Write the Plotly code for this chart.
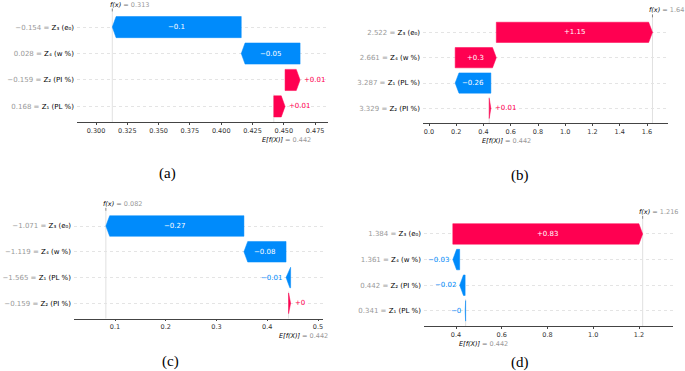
import plotly.graph_objects as go

# ---------------- data ----------------
base_value = 0.442

# panel (a)  rows listed top -> bottom
feat_vals_a = ["−0.154", "0.028", "−0.159", "0.168"]
feat_names_a = ["Z₃ (e₀)", "Z₄ (w %)", "Z₂ (PI %)", "Z₁ (PL %)"]
shap_a = [-0.103, -0.047, 0.012, 0.009]
xticks_a = [0.300, 0.325, 0.350, 0.375, 0.400, 0.425, 0.450, 0.475]
xticklabels_a = ["0.300", "0.325", "0.350", "0.375", "0.400", "0.425", "0.450", "0.475"]

# panel (b)
feat_vals_b = ["2.522", "2.661", "3.287", "3.329"]
feat_names_b = ["Z₃ (e₀)", "Z₄ (w %)", "Z₁ (PL %)", "Z₂ (PI %)"]
shap_b = [1.146, 0.302, -0.262, 0.012]
xticks_b = [0.0, 0.2, 0.4, 0.6, 0.8, 1.0, 1.2, 1.4, 1.6]
xticklabels_b = ["0.0", "0.2", "0.4", "0.6", "0.8", "1.0", "1.2", "1.4", "1.6"]

# panel (c)
feat_vals_c = ["−1.071", "−1.119", "−1.565", "−0.159"]
feat_names_c = ["Z₃ (e₀)", "Z₄ (w %)", "Z₁ (PL %)", "Z₂ (PI %)"]
shap_c = [-0.272, -0.083, -0.009, 0.004]
xticks_c = [0.1, 0.2, 0.3, 0.4, 0.5]
xticklabels_c = ["0.1", "0.2", "0.3", "0.4", "0.5"]

# panel (d)
feat_vals_d = ["1.384", "1.361", "0.442", "0.341"]
feat_names_d = ["Z₃ (e₀)", "Z₄ (w %)", "Z₂ (PI %)", "Z₁ (PL %)"]
shap_d = [0.830, -0.030, -0.024, -0.002]
xticks_d = [0.4, 0.6, 0.8, 1.0, 1.2]
xticklabels_d = ["0.4", "0.6", "0.8", "1.0", "1.2"]

captions = ["(a)", "(b)", "(c)", "(d)"]

# ---------------- style / layout ----------------
W, H = 685, 371
RED = "#ff0051"
BLUE = "#008bfb"
GRAY = "#999999"
FONT = "DejaVu Sans"
HEAD_PX = 3.8
BAR_H = 0.4  # half bar height (bar width 0.8)

panels = [
    dict(vals=feat_vals_a, names=feat_names_a, shap=shap_a, tv=xticks_a, tt=xticklabels_a,
         xpx=(77, 328), ypx=(11.5, 122), xr=(0.2848, 0.4853), eshift=-14, fshift=-4,
         cap=(167, 174)),
    dict(vals=feat_vals_b, names=feat_names_b, shap=shap_b, tv=xticks_b, tt=xticklabels_b,
         xpx=(423, 668), ypx=(17.4, 123.3), xr=(-0.044, 1.754), eshift=-9, fshift=-5,
         cap=(520, 175)),
    dict(vals=feat_vals_c, names=feat_names_c, shap=shap_c, tv=xticks_c, tt=xticklabels_c,
         xpx=(74, 323), ypx=(210.8, 318.5), xr=(0.0192, 0.5098), eshift=-12, fshift=-5,
         cap=(170, 361)),
    dict(vals=feat_vals_d, names=feat_names_d, shap=shap_d, tv=xticks_d, tt=xticklabels_d,
         xpx=(424, 673), ypx=(218.8, 326), xr=(0.2601, 1.3486), eshift=-9, fshift=-6,
         cap=(520, 362)),
]


def fmt_signed(v):
    s = "%+0.02f" % v
    s = s.rstrip("0").rstrip(".")
    return s.replace("-", "−")


def fmt_plain(v):
    s = "%0.03f" % v
    s = s.rstrip("0").rstrip(".")
    return s.replace("-", "−")


fig = go.Figure()
annotations = []
shapes = []
layout_axes = {}

for k, p in enumerate(panels):
    idx = "" if k == 0 else str(k + 1)
    xa, ya = "x" + idx, "y" + idx
    n = len(p["shap"])
    x0px, x1px = p["xpx"]
    px_per_unit = (x1px - x0px) / (p["xr"][1] - p["xr"][0])
    hl = HEAD_PX / px_per_unit

    # waterfall cumulative positions (from bottom row upward)
    starts = [0.0] * n
    ends = [0.0] * n
    cum = base_value
    for i in range(n - 1, -1, -1):
        starts[i] = cum
        cum += p["shap"][i]
        ends[i] = cum
    fx = cum

    for i in range(n):
        v = p["shap"][i]
        yc = n - 1 - i
        s, e = starts[i], ends[i]
        sgn = 1 if v >= 0 else -1
        dist = abs(v)
        color = RED if v >= 0 else BLUE
        if dist > hl:
            xs = [s, e - sgn * hl, e, e - sgn * hl, s, s]
            ys = [yc - BAR_H, yc - BAR_H, yc, yc + BAR_H, yc + BAR_H, yc - BAR_H]
        else:
            xs = [s, e, s, s]
            ys = [yc - BAR_H, yc, yc + BAR_H, yc - BAR_H]
        fig.add_trace(go.Scatter(x=xs, y=ys, fill="toself", fillcolor=color, mode="lines",
                                 line=dict(color=color, width=0.5), hoverinfo="skip",
                                 showlegend=False, xaxis=xa, yaxis=ya))
        txt = fmt_signed(v)
        text_px = len(txt) * 4.3
        bar_px = dist * px_per_unit
        if bar_px > text_px + 2:
            annotations.append(dict(x=(s + e) / 2, y=yc, xref=xa, yref=ya, text=txt,
                                    showarrow=False, xanchor="center", yanchor="middle",
                                    font=dict(family=FONT, size=7, color="white")))
        else:
            annotations.append(dict(x=e, y=yc, xref=xa, yref=ya, text=txt, showarrow=False,
                                    xanchor="left" if v >= 0 else "right", yanchor="middle",
                                    xshift=2 * sgn,
                                    font=dict(family=FONT, size=7, color=color)))

    # f(x) and E[f(X)] reference lines
    shapes.append(dict(type="line", xref=xa, yref=ya + " domain", x0=fx, x1=fx, y0=0, y1=1,
                       line=dict(color="#d4d4d4", width=0.7), layer="below"))
    shapes.append(dict(type="line", xref=xa, yref=ya + " domain", x0=base_value, x1=base_value,
                       y0=0, y1=1.0 / n, line=dict(color="#d4d4d4", width=0.7),
                       layer="below"))
    shapes.append(dict(type="line", xref=xa, yref=ya + " domain", x0=fx, x1=fx,
                       ysizemode="pixel", yanchor=1, y0=0, y1=3,
                       line=dict(color="#666666", width=0.8)))
    annotations.append(dict(x=fx, y=1, xref=xa, yref=ya + " domain", xanchor="left",
                            yanchor="bottom", xshift=p["fshift"], yshift=1, showarrow=False,
                            text="<i>f(x)</i><span style='color:%s'> = %s</span>" % (GRAY, fmt_plain(fx)),
                            font=dict(family=FONT, size=6.5, color="#000000")))
    annotations.append(dict(x=base_value, y=0, xref=xa, yref=ya + " domain", xanchor="left",
                            yanchor="top", xshift=p["eshift"], yshift=-11.5, showarrow=False,
                            text="<i>E[f(X)]</i><span style='color:%s'> = %s</span>" % (GRAY, fmt_plain(base_value)),
                            font=dict(family=FONT, size=6.5, color="#000000")))
    # caption
    annotations.append(dict(x=p["cap"][0] / W, y=1 - p["cap"][1] / H, xref="paper", yref="paper",
                            text=captions[k], showarrow=False, xanchor="center", yanchor="middle",
                            font=dict(family="Liberation Serif", size=15, color="#000000")))

    ticktext_y = ["<span style='color:%s'>%s = </span><span style='color:#000000'>%s</span>"
                  % (GRAY, p["vals"][i], p["names"][i]) for i in range(n)]
    layout_axes["xaxis" + idx] = dict(
        domain=[x0px / W, x1px / W], range=list(p["xr"]), anchor=ya,
        tickvals=p["tv"], ticktext=p["tt"], ticks="outside", ticklen=2, tickwidth=0.8,
        tickcolor="#444444", showline=True, linecolor="#444444", linewidth=0.8,
        showgrid=False, zeroline=False, fixedrange=True,
        tickfont=dict(family=FONT, size=6.5, color="#333333"))
    layout_axes["yaxis" + idx] = dict(
        domain=[1 - p["ypx"][1] / H, 1 - p["ypx"][0] / H], range=[-0.59, n - 1 + 0.59],
        anchor=xa, tickvals=[n - 1 - i for i in range(n)], ticktext=ticktext_y, ticks="",
        showgrid=True, gridcolor="#e4e4e4", gridwidth=0.6, griddash="dot",
        zeroline=False, showline=False, fixedrange=True, ticklabelstandoff=2,
        tickfont=dict(family=FONT, size=7, color="#000000"))

fig.update_layout(width=W, height=H, margin=dict(l=0, r=0, t=0, b=0),
                  paper_bgcolor="white", plot_bgcolor="white", showlegend=False,
                  annotations=annotations, shapes=shapes, **layout_axes)

fig.write_html("out.html", config={"displayModeBar": False},
               post_script="document.body.style.margin='0';")
